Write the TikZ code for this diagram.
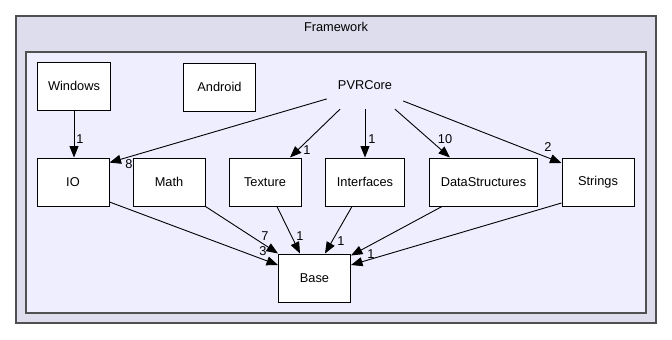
\documentclass[tikz,border=0pt]{standalone}
\usepackage{fontspec}
\setmainfont{Liberation Sans}
\usetikzlibrary{arrows.meta}

\definecolor{outer_fill}{HTML}{DDDDEE}
\definecolor{inner_fill}{HTML}{EEEEFF}
\definecolor{frame_line}{HTML}{505050}

\begin{document}
\begin{tikzpicture}[ % pixel-like units, y grows downwards
x=1pt, y=-1pt,
font=\fontsize{12.8}{15}\selectfont,
dir_box/.style={rectangle, draw=black, fill=white, line width=1pt, inner xsep=11pt, minimum width=72pt, minimum height=48pt},
plain_dir/.style={rectangle, inner xsep=11pt, minimum width=72pt, minimum height=48pt},
out_arrow/.style={-{Triangle[length=11.5pt,width=9pt]}, line width=0.9pt},
edge_text/.style={inner sep=0pt}
]

\useasboundingbox (0,0) rectangle (672,340);

% the two nested frames
\draw[fill=outer_fill, draw=frame_line, line width=1.4pt] (16,16) rectangle (656,323);
\draw[fill=inner_fill, draw=frame_line, line width=1.3pt] (26,52) rectangle (646,313);
\node(framework_title) at (336,27) {Framework};



\node[dir_box](windows) at (74,86) {Windows};
\node[dir_box](android) at (219.5,87) {Android};
\node[plain_dir](pvr_core) at (365,85) {PVRCore};

\node[dir_box](io) at (73,182) {IO};
\node[dir_box](math) at (169,182) {Math};
\node[dir_box](texture) at (265,182) {Texture};
\node[dir_box](interfaces) at (365,182) {Interfaces};
\node[dir_box](data_structures) at (483.5,182) {DataStructures};
\node[dir_box](strings) at (598,182) {Strings};

\node[dir_box](base) at (314.5,278) {Base};



\draw[out_arrow](windows.south) to [] (windows.south |- io.north);

\draw[out_arrow](pvr_core.-160) to [] (io.28);
\draw[out_arrow]([xshift=-25pt]pvr_core.south) to [] ([xshift=25pt]texture.north);
\draw[out_arrow](pvr_core.south) to [] (interfaces.north);
\draw[out_arrow]([xshift=30pt]pvr_core.south) to [] ([xshift=-33.5pt]data_structures.north);
\draw[out_arrow]([yshift=-16pt]pvr_core.east) to [] ([yshift=19pt]strings.west);

\draw[out_arrow]([yshift=-20pt]io.east) to [] ([yshift=13pt]base.west);
\draw[out_arrow](math.south east) to [] (base.north west);
\draw[out_arrow]([xshift=12pt]texture.south) to [] ([xshift=-14.5pt]base.north);
\draw[out_arrow]([xshift=-13pt]interfaces.south) to [] ([xshift=10.5pt]base.north);
\draw[out_arrow]([xshift=-41.5pt]data_structures.south) to [] ([yshift=-2pt]base.north east);
\draw[out_arrow]([yshift=-21pt]strings.west) to [] ([yshift=13pt]base.east);

% dependency counts
\node[edge_text](n_windows_io) at (80,139) {1};
\node[edge_text](n_core_io) at (129,164) {8};
\node[edge_text](n_core_texture) at (307,150) {1};
\node[edge_text](n_core_interfaces) at (372,139) {1};
\node[edge_text](n_core_data) at (445,139) {10};
\node[edge_text](n_core_strings) at (548,147) {2};
\node[edge_text](n_io_base) at (263,251) {3};
\node[edge_text](n_math_base) at (265,236) {7};
\node[edge_text](n_texture_base) at (300,236) {1};
\node[edge_text](n_interfaces_base) at (341,241) {1};
\node[edge_text](n_data_base) at (371,254) {1};

\end{tikzpicture}
\end{document}
